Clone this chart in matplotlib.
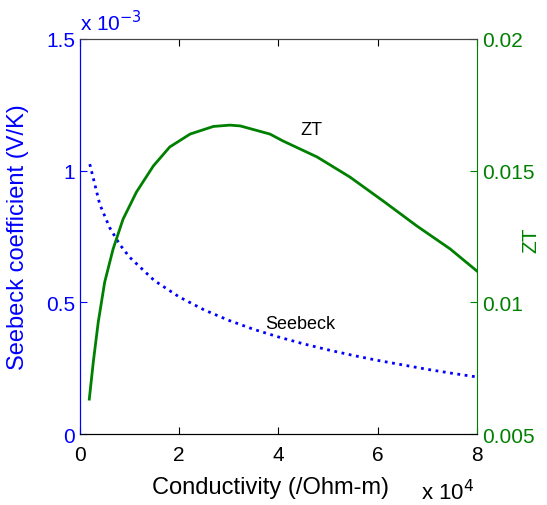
import matplotlib
matplotlib.use('Agg')
import matplotlib.pyplot as plt
from matplotlib.ticker import FuncFormatter

plt.rcParams['font.family'] = ['Liberation Sans', 'DejaVu Sans']

# conductivity (/Ohm-m)
sigma_s = [0.2e4, 0.4e4, 0.6e4, 0.8e4, 1.0e4, 1.5e4, 2.0e4, 2.5e4, 3.0e4, 3.5e4,
           4.0e4, 4.5e4, 5.0e4, 5.5e4, 6.0e4, 6.5e4, 7.0e4, 7.5e4, 8.0e4]
seebeck = [1.025e-3, 0.873e-3, 0.784e-3, 0.721e-3, 0.672e-3, 0.583e-3, 0.521e-3,
           0.472e-3, 0.432e-3, 0.398e-3, 0.369e-3, 0.343e-3, 0.320e-3, 0.299e-3,
           0.280e-3, 0.263e-3, 0.246e-3, 0.231e-3, 0.217e-3]

sigma_zt = [0.19e4, 0.27e4, 0.37e4, 0.50e4, 0.67e4, 0.87e4, 1.14e4, 1.48e4, 1.81e4,
            2.22e4, 2.69e4, 3.02e4, 3.23e4, 3.83e4, 4.09e4, 4.78e4, 5.44e4, 6.11e4,
            6.79e4, 7.46e4, 8.0e4]
zt = [0.00633, 0.00773, 0.00925, 0.01077, 0.01203, 0.01316, 0.01419, 0.01518, 0.01590,
      0.01639, 0.01668, 0.01673, 0.01670, 0.01639, 0.01613, 0.01552, 0.01476, 0.01385,
      0.01290, 0.01203, 0.01119]

blue = '#0000ff'
green = '#008000'

fig = plt.figure(figsize=(5.47, 5.06), dpi=100)
ax = fig.add_axes([0.146, 0.140, 0.726, 0.781])
ax2 = ax.twinx()

ax.plot(sigma_s, seebeck, color=blue, linestyle=':', linewidth=2)
ax2.plot(sigma_zt, zt, color=green, linewidth=2)

ax.set_xlim(0, 8e4)
ax.set_ylim(0, 1.5e-3)
ax2.set_ylim(0.005, 0.02)

ax.set_xticks([0, 2e4, 4e4, 6e4, 8e4])
ax.xaxis.set_major_formatter(FuncFormatter(lambda v, p: '%g' % (v / 1e4)))
ax.set_yticks([0, 0.5e-3, 1e-3, 1.5e-3])
ax.yaxis.set_major_formatter(FuncFormatter(lambda v, p: '%g' % (v * 1e3)))
ax2.set_yticks([0.005, 0.01, 0.015, 0.02])
ax2.yaxis.set_major_formatter(FuncFormatter(lambda v, p: '%g' % v))

ax.tick_params(axis='x', direction='in', top=True, labelsize=15, length=5, pad=8)
ax.tick_params(axis='y', direction='in', colors=blue, labelsize=15, length=5)
ax2.tick_params(axis='y', direction='in', colors=green, labelsize=15, length=5)

ax.spines['left'].set_color(blue)
ax2.spines['left'].set_color(blue)
ax2.spines['right'].set_color(green)
ax.spines['right'].set_visible(False)
for a in (ax, ax2):
    a.spines['top'].set_color('#444444')
    a.spines['bottom'].set_color('black')

ax.set_xlabel('Conductivity (/Ohm-m)', fontsize=17)
ax.xaxis.set_label_coords(0.481, -0.105)
ax.set_ylabel('Seebeck coefficient (V/K)', fontsize=17, color=blue)
ax.yaxis.set_label_coords(-0.127, 0.50)
ax2.set_ylabel('ZT', fontsize=15, color=green)
ax2.yaxis.set_label_coords(1.113, 0.494)

ax.text(0.0, 1.012, r'x 10$^{-3}$', transform=ax.transAxes, fontsize=15,
        color=blue, ha='left', va='bottom')
ax.text(0.86, -0.145, r'x 10$^{4}$', transform=ax.transAxes, fontsize=16,
        color='black', ha='left', va='center')

ax2.text(4.66e4, 0.01658, 'ZT', fontsize=13, ha='center', va='center')
ax.text(4.44e4, 0.42e-3, 'Seebeck', fontsize=13, ha='center', va='center')

fig.savefig('out.png', dpi=100)
